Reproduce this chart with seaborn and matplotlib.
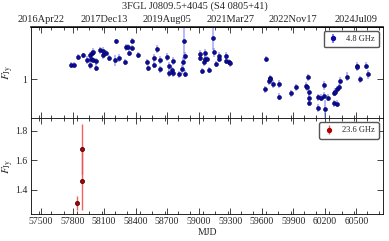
import numpy as np
import pandas as pd
import matplotlib
matplotlib.use("Agg")
import matplotlib.pyplot as plt
import seaborn as sns
from matplotlib.ticker import MultipleLocator, FixedLocator, NullLocator

# 4.8 GHz light curve (MJD, flux density in Jy, error)
mjd_c = [57782, 57816, 57849, 57902, 57937, 57966, 57972, 57968, 57987, 57994,
         57991, 58023, 58026, 58058, 58089, 58094, 58121, 58149, 58210, 58205,
         58238, 58301, 58305, 58324, 58336, 58362, 58366, 58425, 58512, 58515,
         58571, 58575, 58605, 58631, 58628, 58695, 58716, 58720, 58752, 58748,
         58755, 58814, 58840, 58852, 58862, 58866, 58868,
         59011, 59014, 59035, 59054, 59058, 59064, 59080, 59096, 59140, 59143,
         59166, 59191, 59194, 59261, 59264, 59290, 59296,
         59638, 59635, 59670, 59676, 59683, 59708, 59765, 59768, 59882, 59923,
         60018, 60033, 60044, 60046, 60048, 60050, 60135, 60138, 60164, 60194,
         60197, 60206, 60230, 60284, 60287, 60300, 60313, 60320, 60337, 60341,
         60411, 60503, 60510, 60538, 60591, 60614]
flux_c = [1.081, 1.085, 1.134, 1.145, 1.117, 1.149, 1.123, 1.085, 1.158, 1.167,
          1.115, 1.106, 1.067, 1.178, 1.174, 1.149, 1.158, 1.129, 1.240, 1.115,
          1.127, 1.102, 1.199, 1.203, 1.162, 1.245, 1.196, 1.147, 1.104, 1.065,
          1.129, 1.085, 1.187, 1.115, 1.057, 1.132, 1.077, 1.033, 1.110, 1.053,
          1.033, 1.027, 1.057, 1.100, 1.240, 1.141, 1.031,
          1.154, 1.126, 1.049, 1.100, 1.162, 1.121, 1.119, 1.053, 1.266, 1.165,
          1.088, 1.141, 1.121, 1.143, 1.110, 1.104, 1.094,
          1.121, 0.943, 0.989, 1.004, 0.998, 0.972, 0.972, 0.904, 0.922, 0.954,
          0.961, 0.953, 1.009, 0.927, 0.899, 0.873, 0.846, 0.900, 0.899, 0.966,
          0.910, 0.844, 0.899, 0.923, 0.870, 0.928, 0.869, 0.942, 0.953, 0.989,
          1.014, 1.079, 1.068, 1.000, 1.079, 1.027]
err_c = [0.018, 0.018, 0.020, 0.018, 0.025, 0.020, 0.030, 0.025, 0.025, 0.025,
         0.020, 0.020, 0.020, 0.025, 0.025, 0.025, 0.020, 0.020, 0.020, 0.035,
         0.025, 0.020, 0.025, 0.020, 0.020, 0.020, 0.020, 0.020, 0.020, 0.020,
         0.025, 0.020, 0.030, 0.025, 0.020, 0.025, 0.025, 0.020, 0.025, 0.020,
         0.020, 0.020, 0.025, 0.035, 0.140, 0.025, 0.020,
         0.025, 0.020, 0.018, 0.020, 0.025, 0.020, 0.020, 0.018, 0.085, 0.030,
         0.018, 0.025, 0.020, 0.025, 0.020, 0.020, 0.020,
         0.018, 0.018, 0.020, 0.020, 0.020, 0.020, 0.020, 0.018, 0.018, 0.020,
         0.020, 0.020, 0.020, 0.018, 0.018, 0.018, 0.020, 0.020, 0.018, 0.025,
         0.020, 0.045, 0.018, 0.018, 0.018, 0.020, 0.018, 0.020, 0.020, 0.020,
         0.025, 0.020, 0.020, 0.020, 0.020, 0.025]

# 23.6 GHz light curve
mjd_k = [57844, 57891, 57893]
flux_k = [1.312, 1.461, 1.676]
err_k = [0.048, 0.20, 0.17]

date_ticks = [57500, 58100, 58700, 59300, 59900, 60500]
date_labels = ["2016Apr22", "2017Dec13", "2019Aug05", "2021Mar27", "2022Nov17", "2024Jul09"]

sns.set_theme(style="ticks")
plt.rcParams["font.family"] = ["Liberation Serif", "DejaVu Serif"]
plt.rcParams["mathtext.fontset"] = "stix"
plt.rcParams["font.size"] = 7

df_c = pd.DataFrame({"mjd": mjd_c, "flux": flux_c, "err": err_c})
df_k = pd.DataFrame({"mjd": mjd_k, "flux": flux_k, "err": err_k})

fig = plt.figure(figsize=(3.89, 2.41), dpi=100)
ax1 = fig.add_axes([0.0797, 0.510, 0.905, 0.378])
ax2 = fig.add_axes([0.0797, 0.112, 0.905, 0.398], sharex=ax1)

# top panel
ax1.errorbar(df_c["mjd"], df_c["flux"], yerr=df_c["err"], fmt="none",
             ecolor="#6a6af5", alpha=0.55, elinewidth=1.2, zorder=1)
sns.scatterplot(data=df_c, x="mjd", y="flux", ax=ax1, color="#0a0aa0",
                edgecolor="#000050", linewidth=0.4, s=8, legend=False, zorder=2)
ax1.errorbar([np.nan], [np.nan], yerr=[0.1], fmt="o", color="#0a0aa0", ms=2.8,
             ecolor="#6a6af5", elinewidth=1.2, label="4.8 GHz")
ax1.set_yscale("log")
ax1.set_ylim(0.80, 1.346)
ax1.yaxis.set_major_locator(FixedLocator([1.0]))
ax1.yaxis.set_minor_locator(NullLocator())
ax1.set_yticklabels(["1"])
ax1.set_ylabel(r"$F_{\rm Jy}$", fontsize=8)
ax1.set_xlabel("")
ax1.tick_params(axis="x", labelbottom=False)

# bottom panel
ax2.errorbar(df_k["mjd"], df_k["flux"], yerr=df_k["err"], fmt="none",
             ecolor="#f05050", alpha=0.9, elinewidth=1.0, zorder=1)
sns.scatterplot(data=df_k, x="mjd", y="flux", ax=ax2, color="#b00000",
                edgecolor="#300000", linewidth=0.5, s=9, legend=False, zorder=2)
ax2.errorbar([np.nan], [np.nan], yerr=[0.1], fmt="o", color="#b00000", ms=2.8,
             ecolor="#f05050", elinewidth=1.0, label="23.6 GHz")
ax2.set_ylim(1.237, 1.886)
ax2.yaxis.set_major_locator(FixedLocator([1.4, 1.6, 1.8]))
ax2.yaxis.set_minor_locator(NullLocator())
ax2.set_ylabel(r"$F_{\rm Jy}$", fontsize=8)
ax2.set_xlabel("MJD", fontsize=7, labelpad=1)

for ax in (ax1, ax2):
    ax.yaxis.set_label_coords(-0.043, 0.5)

ax1.set_xlim(57405, 60755)
for ax in (ax1, ax2):
    ax.xaxis.set_major_locator(MultipleLocator(600))
    ax.xaxis.set_minor_locator(MultipleLocator(120))
    ax.tick_params(which="both", direction="in", top=True, right=True,
                   labelsize=7, width=0.6, pad=2.5)
    ax.tick_params(which="major", length=4)
    ax.tick_params(which="minor", length=2)
    for s in ax.spines.values():
        s.set_linewidth(0.6)
        s.set_color("black")
    ax.legend(loc="upper right", fontsize=6, fancybox=True, framealpha=1,
              edgecolor="#555555", handlelength=1.2, borderpad=0.5,
              handletextpad=1.0)

# bottom labels every 300 MJD
ax2.set_xticks([57500, 57800, 58100, 58400, 58700, 59000, 59300,
                59600, 59900, 60200, 60500])

# date axis on top
top = ax1.secondary_xaxis("top")
top.set_xticks(date_ticks)
top.set_xticklabels(date_labels)
top.tick_params(direction="in", length=0, labelsize=7.5, pad=2)

fig.suptitle("3FGL J0809.5+4045 (S4 0805+41)", y=0.995, fontsize=7.5)
fig.savefig("out.png", dpi=100)
